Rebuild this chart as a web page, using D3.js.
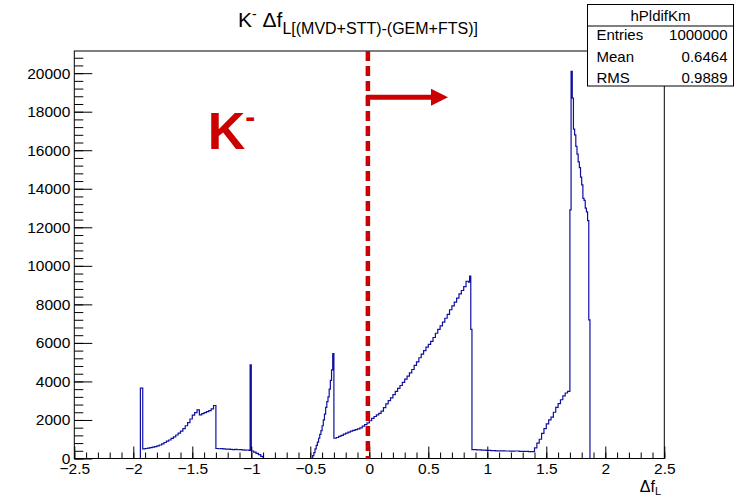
<!DOCTYPE html>
<html>
<head>
<meta charset="utf-8">
<script src="https://cdn.jsdelivr.net/npm/d3@7/dist/d3.min.js"></script>
<style>
  html, body { margin: 0; padding: 0; background: #fff; }
  svg { display: block; font-family: "Liberation Sans", Arial, Helvetica, sans-serif; }
</style>
</head>
<body>
<svg id="chart" width="735" height="496"></svg>
<script>
// ---------------- data ----------------
const xDomain = [-2.5, 2.5];
const yDomainMax = 21150;

const xTickValues = [-2.5, -2, -1.5, -1, -0.5, 0, 0.5, 1, 1.5, 2, 2.5];
const xTickLabels = ["\u22122.5", "\u22122", "\u22121.5", "\u22121", "\u22120.5", "0", "0.5", "1", "1.5", "2", "2.5"];
const yTickValues = [0, 2000, 4000, 6000, 8000, 10000, 12000, 14000, 16000, 18000, 20000];
const yTickLabels = ["0", "2000", "4000", "6000", "8000", "10000", "12000", "14000", "16000", "18000", "20000"];
const xMinorStep = 0.1;
const yMinorStep = 400;

// histogram bin contents, grouped in runs: each run has a first bin edge and a bin width
const spikeA    = [3650];                                   // from -1.94, width 0.02
const bumpRise  = [500,520,540,560,590,620,660,700,760,830,900,960,1040,1120,1220,1320,
                   1420,1550,1700,1860,2050,2250,2380,2520,2260,2330,2380,2430,2480,2580,2750]; // from -1.92, 0.02
const shelf1    = [520,505,510,495,485,490,475,465,470,455,460,445,435,440]; // from -1.30, 0.02
const spikeB    = [425, 4860];                              // from -1.02, 0.01
const tail1     = [390,330,270,200,110];                    // from -1.00, 0.02
const peak2Rise = [150,300,500,680,850,1050,1250,1450,1700,2000,2300,2650,2950,3200,3600,4050,4600,5440]; // from -0.48, 0.01
const ramp      = [1050,1090,1150,1200,1260,1320,1370,1420,1460,1500,1540,1590,1680,1760,1850,1960,
                   2080,2180,2260,2340,2460,2640,2830,3000,3150,3320,3480,3640,3790,3950,4120,4280,
                   4440,4620,4830,5020,5230,5420,5600,5780,5920,6080,6280,6500,6700,6880,7080,7280,
                   7480,7720,7920,8120,8320,8540,8720,8920,9200];          // from -0.30, 0.02
const rampTop   = [9150, 9470, 6700];                       // from 0.84, 0.01
const shelf2    = [460,445,430,420,410,400,400,390,380,390,370,370,360]; // from 0.87, 0.04
const shelf2End = [360];                                    // from 1.39, 0.01
const peak4Rise = [550,800,1000,1300,1550,1800,2000,2150,2400,2650,2850,3050,3250,3400,3480]; // from 1.40, 0.02
const peak4     = [12900,20100,18700,17100,16800,16200,15800,15400,15100,14600,14200,13500,13400,13000,12800,12350,7200]; // from 1.70, 0.01

const runStarts = [-1.94, -1.92, -1.30, -1.02, -1.00, -0.48, -0.30, 0.84, 0.87, 1.39, 1.40, 1.70];
const runWidths = [0.02, 0.02, 0.02, 0.01, 0.02, 0.01, 0.02, 0.01, 0.04, 0.01, 0.02, 0.01];
const runCounts = [spikeA, bumpRise, shelf1, spikeB, tail1, peak2Rise, ramp, rampTop, shelf2, shelf2End, peak4Rise, peak4];

// annotations
const cutValue = -0.012;     // dashed red line position
const arrowY = 18750;        // arrow height (counts)
const arrowTip = 0.667;      // arrow tip (x units)
const kLabelX = -1.37, kLabelY = 16080;

const statsName = "hPldifKm";
const statsRows = [["Entries", "1000000"], ["Mean", "0.6464"], ["RMS", "0.9889"]];

// ---------------- drawing ----------------
const svg = d3.select("#chart");
const frame = { left: 74.3, right: 664.3, top: 51, bottom: 458.5 };
const x = d3.scaleLinear().domain(xDomain).range([frame.left, frame.right]);
const y = d3.scaleLinear().domain([0, yDomainMax]).range([frame.bottom, frame.top]);

svg.append("rect").attr("width", 735).attr("height", 496).attr("fill", "#fff");

// build bins, filling gaps with zeros
const r6 = v => Math.round(v * 1e6) / 1e6;
let bins = [];
runStarts.forEach((s, i) => {
  runCounts[i].forEach((c, j) => {
    bins.push({ lo: r6(s + j * runWidths[i]), hi: r6(s + (j + 1) * runWidths[i]), v: c });
  });
});
bins.sort((a, b) => a.lo - b.lo);
const full = [];
let cur = xDomain[0];
bins.forEach(b => {
  if (b.lo > cur + 1e-9) full.push({ lo: cur, hi: b.lo, v: 0 });
  full.push(b);
  cur = b.hi;
});
if (cur < xDomain[1]) full.push({ lo: cur, hi: xDomain[1], v: 0 });
const pts = full.map(b => [b.lo, b.v]);
pts.push([xDomain[1], 0]);

const line = d3.line().x(d => x(d[0])).y(d => y(d[1])).curve(d3.curveStepAfter);
svg.append("path").datum(pts).attr("d", line)
  .attr("fill", "none").attr("stroke", "#1010a0").attr("stroke-width", 1.2);

// axes
const fontSize = 15.5;
const yMinor = d3.range(0, yDomainMax, yMinorStep);
const xMinor = d3.range(Math.round(xDomain[0] / xMinorStep), Math.round(xDomain[1] / xMinorStep) + 1).map(i => r6(i * xMinorStep));

const gYm = svg.append("g").attr("transform", `translate(${frame.left},0)`)
  .call(d3.axisLeft(y).tickValues(yMinor).tickSize(-9).tickFormat(""));
const gY = svg.append("g").attr("transform", `translate(${frame.left},0)`)
  .call(d3.axisLeft(y).tickValues(yTickValues).tickSize(-18).tickPadding(4)
        .tickFormat((d, i) => yTickLabels[i]));
const gXm = svg.append("g").attr("transform", `translate(0,${frame.bottom})`)
  .call(d3.axisBottom(x).tickValues(xMinor).tickSize(-6).tickFormat(""));
const gX = svg.append("g").attr("transform", `translate(0,${frame.bottom})`)
  .call(d3.axisBottom(x).tickValues(xTickValues).tickSize(-12).tickPadding(4.5)
        .tickFormat((d, i) => xTickLabels[i]));
[gYm, gY, gXm, gX].forEach(g => {
  g.select(".domain").remove();
  g.selectAll("line").attr("stroke", "#000").attr("stroke-width", 1);
  g.selectAll("text").attr("fill", "#000").style("font-size", fontSize + "px")
    .style("font-family", '"Liberation Sans", Arial, sans-serif');
});

svg.append("rect").attr("x", frame.left).attr("y", frame.top)
  .attr("width", frame.right - frame.left).attr("height", frame.bottom - frame.top)
  .attr("fill", "none").attr("stroke", "#000").attr("stroke-width", 1);

// red annotations
const red = "#cc0000";
svg.append("line").attr("x1", x(cutValue)).attr("x2", x(cutValue))
  .attr("y1", frame.top).attr("y2", frame.bottom)
  .attr("stroke", red).attr("stroke-width", 4.5).attr("stroke-dasharray", "10,5");
const headLen = 17, headHalf = 8.5;
const ay = y(arrowY), ax0 = x(cutValue) - 2, ax1 = x(arrowTip);
svg.append("line").attr("x1", ax0).attr("x2", ax1 - headLen + 2).attr("y1", ay).attr("y2", ay)
  .attr("stroke", red).attr("stroke-width", 5);
svg.append("path")
  .attr("d", `M${ax1},${ay} L${ax1 - headLen},${ay - headHalf} L${ax1 - headLen},${ay + headHalf} Z`)
  .attr("fill", red);

const kt = svg.append("text").attr("x", x(kLabelX)).attr("y", y(kLabelY))
  .attr("fill", red).style("font-weight", "bold").style("font-size", "52px");
kt.append("tspan").text("K");
kt.append("tspan").attr("dy", -22).style("font-size", "30px").text("-");

// title
const tt = svg.append("text").attr("x", 238).attr("y", 26.7).attr("fill", "#000").style("font-size", "21px");
tt.append("tspan").text("K");
tt.append("tspan").attr("dy", -8).style("font-size", "14px").text("-");
tt.append("tspan").attr("dy", 8).text(" \u0394f");
tt.append("tspan").attr("dy", 7.6).style("font-size", "16px").text("L[(MVD+STT)-(GEM+FTS)]");

// x axis title
const xt = svg.append("text").attr("x", 661).attr("y", 491.5).attr("text-anchor", "end")
  .attr("fill", "#000").style("font-size", "16px");
xt.append("tspan").text("\u0394f");
xt.append("tspan").attr("dy", 3).style("font-size", "11px").text("L");

// stats box
const sb = { x: 587.5, y: 4.5, w: 146, h: 81.5, sep: 26 };
svg.append("rect").attr("x", sb.x).attr("y", sb.y).attr("width", sb.w).attr("height", sb.h)
  .attr("fill", "#fff").attr("stroke", "#000").attr("stroke-width", 1);
svg.append("line").attr("x1", sb.x).attr("x2", sb.x + sb.w).attr("y1", sb.sep).attr("y2", sb.sep)
  .attr("stroke", "#000").attr("stroke-width", 1);
svg.append("text").attr("x", sb.x + sb.w / 2).attr("y", 20.7).attr("text-anchor", "middle")
  .style("font-size", "15px").text(statsName);
statsRows.forEach((r, i) => {
  const by = 40 + i * 21.5;
  svg.append("text").attr("x", sb.x + 9).attr("y", by).style("font-size", "15px").text(r[0]);
  svg.append("text").attr("x", sb.x + sb.w - 6).attr("y", by).attr("text-anchor", "end")
    .style("font-size", "15px").text(r[1]);
});
</script>
</body>
</html>
